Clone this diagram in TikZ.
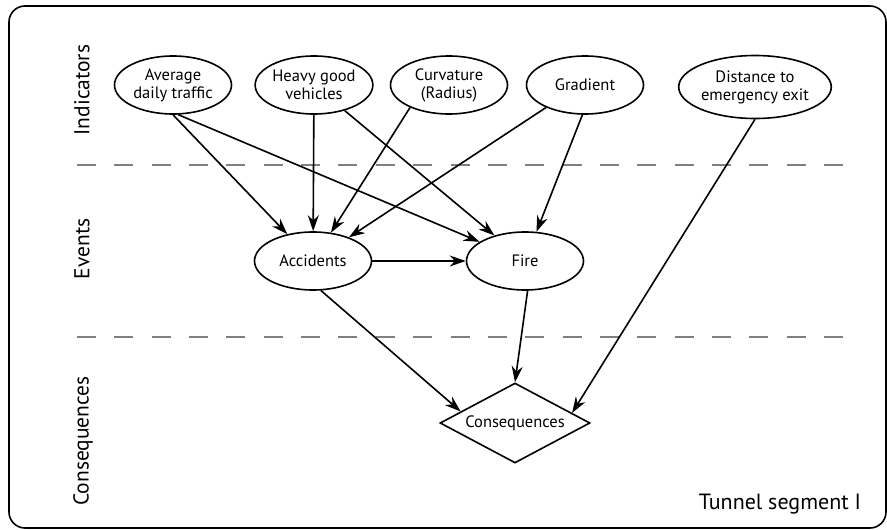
\documentclass[tikz,border=0pt]{standalone}
\usepackage{fontspec}
\setmainfont{PT Sans}
\usetikzlibrary{shapes.geometric,arrows.meta}

\begin{document}
\begin{tikzpicture}[x=1pt, y=-1pt, ->, >={Stealth[length=16pt,width=11pt]}, line width=1.6pt,
  var/.style={draw, ellipse, inner sep=0pt, minimum width=117pt, minimum height=58pt, align=center, font=\fontsize{16.5}{18}\selectfont},
  lane/.style={rotate=90, font=\fontsize{21.5}{24}\selectfont},
  divider/.style={-, draw=gray, line width=1.8pt, dash pattern=on 19pt off 18.35pt}]
  \useasboundingbox (0,0) rectangle (887,530);
  \draw[-, rounded corners=16pt] (9,6) rectangle (886,528);

  % layer labels and dividers
  \node[lane] (ind) at (82,90) {Indicators};
  \node[lane] (evt) at (82,249) {Events};
  \node[lane] (csq) at (83,441) {Consequences};
  \draw[divider] (77,165) -- (843,165);
  \draw[divider] (77,337) -- (843,337);

  % indicators
  \node[var] (adt) at (173,85) {Average\\daily traffic};
  \node[var] (hgv) at (314,85) {Heavy good\\vehicles};
  \node[var] (curv) at (449,85) {Curvature\\(Radius)};
  \node[var] (grad) at (585,85) {Gradient};
  \node[var, minimum width=129pt, minimum height=63pt] (dist) at (755,87) {Distance to\\emergency exit};

  % events and consequences
  \node[var] (acc) at (313,261) {Accidents};
  \node[var] (fire) at (525,261) {Fire};
  \node[draw, diamond, aspect=1.85, inner sep=0pt, minimum width=150pt, minimum height=80pt,
    font=\fontsize{16.5}{18}\selectfont] (cons) at (515,423) {Consequences};
  \node[font=\fontsize{22}{24}\selectfont] (seg) at (780,504) {Tunnel segment I};

  \draw (adt.south) -- (acc);
  \draw (adt.-80) -- (fire);
  \draw (hgv) -- (acc);
  \draw (hgv) -- (fire);
  \draw (curv.-150) -- (acc);
  \draw (grad.-150) -- (acc);
  \draw (grad.-95) -- (fire);
  \draw (acc) -- (fire);
  \draw (acc.-75) -- (cons.168);
  \draw (fire.-85) -- (cons.north);
  \draw (dist.south) -- (cons.10);
\end{tikzpicture}
\end{document}
